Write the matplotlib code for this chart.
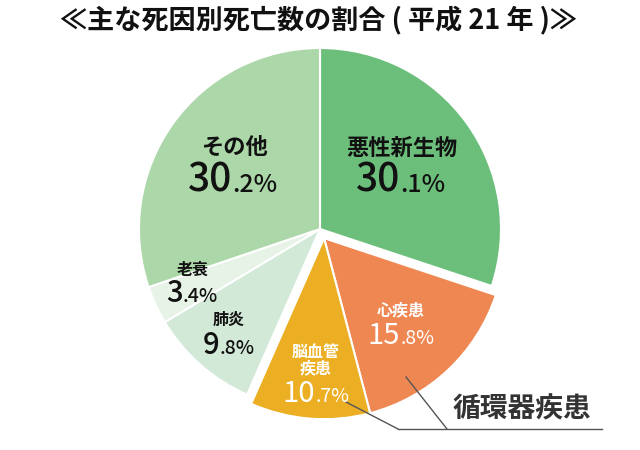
import numpy as np
import matplotlib
matplotlib.use("Agg")
import matplotlib.pyplot as plt
from matplotlib.offsetbox import TextArea, HPacker, AnnotationBbox

plt.rcParams['font.family'] = ['Noto Sans CJK JP', 'DejaVu Sans']

categories = ["悪性新生物", "心疾患", "脳血管\n疾患", "肺炎", "老衰", "その他"]
values = [30.1, 15.8, 10.7, 9.8, 3.4, 30.2]
colors = ["#6cbf7b", "#ef8752", "#ecae22", "#d3e9d8", "#e8f3e8", "#acd7a8"]
text_colors = ["#111111", "#ffffff", "#ffffff", "#111111", "#111111", "#111111"]
exploded_group = [1, 2]  # 循環器疾患
group_label = "循環器疾患"
title = "≪主な死因別死亡数の割合 ( 平成 21 年 )≫"

W, H = 640, 450
fig = plt.figure(figsize=(W / 100, H / 100), dpi=100)
ax = fig.add_axes([0, 0, 1, 1])

def py(y):
    return H - y

cx, cy, R = 320, py(229), 181
wedges, _ = ax.pie(values, startangle=90, counterclock=False, colors=colors,
                   center=(cx, cy), radius=R, frame=True,
                   wedgeprops=dict(edgecolor='white', linewidth=1.5))
ax.set_xlim(0, W)
ax.set_ylim(0, H)
ax.set_aspect('equal')
ax.axis('off')

# explode the circulatory group together along its mid angle
t1 = wedges[exploded_group[0]].theta2
t2 = wedges[exploded_group[-1]].theta1
mid = np.deg2rad((t1 + t2) / 2)
off = 10
for i in exploded_group:
    wedges[i].set_center((cx + off * np.cos(mid), cy + off * np.sin(mid)))

# labels: (name position, number position) in pixel coords
name_pos = [(402, 148), (401, 310), (316, 360), (229, 320), (193, 270), (234, 147)]
num_pos = [(401, 181), (401, 336), (316, 394), (229, 346), (192, 293), (233, 181)]
big_sizes = [28, 21, 21, 21, 21, 28]
small_sizes = [18, 14, 14, 14, 14, 18]
name_sizes = [16, 11.5, 11.5, 11.5, 11.5, 16]
num_weights = ['medium', 'regular', 'regular', 'medium', 'medium', 'medium']

for i, cat in enumerate(categories):
    tc = text_colors[i]
    ax.text(name_pos[i][0], py(name_pos[i][1]), cat, ha='center', va='center',
            fontsize=name_sizes[i], color=tc, fontweight='bold', linespacing=1.05)
    s = f"{values[i]:.1f}"
    ip, dp = s.split(".")
    a = TextArea(ip, textprops=dict(fontsize=big_sizes[i], color=tc, fontweight=num_weights[i]))
    b = TextArea("." + dp + "%", textprops=dict(fontsize=small_sizes[i], color=tc, fontweight=num_weights[i]))
    box = HPacker(children=[a, b], align='baseline', pad=0, sep=0)
    ab = AnnotationBbox(box, (num_pos[i][0], py(num_pos[i][1])), frameon=False,
                        box_alignment=(0.5, 0.5), pad=0)
    ax.add_artist(ab)

# leader lines for the circulatory group
lc = "#555555"
ax.plot([398, 602], [py(429), py(429)], color=lc, lw=1.0)
ax.plot([406, 447], [py(377), py(429)], color=lc, lw=1.0)
ax.plot([346, 398], [py(402), py(429)], color=lc, lw=1.0)
ax.text(522, py(409), group_label, ha='center', va='center', fontsize=20,
        color='#333333', fontweight='bold')

ax.text(318, py(20), title, ha='center', va='center', fontsize=19.5,
        fontweight='bold', color='#111111')

fig.savefig("out.png", dpi=100)
